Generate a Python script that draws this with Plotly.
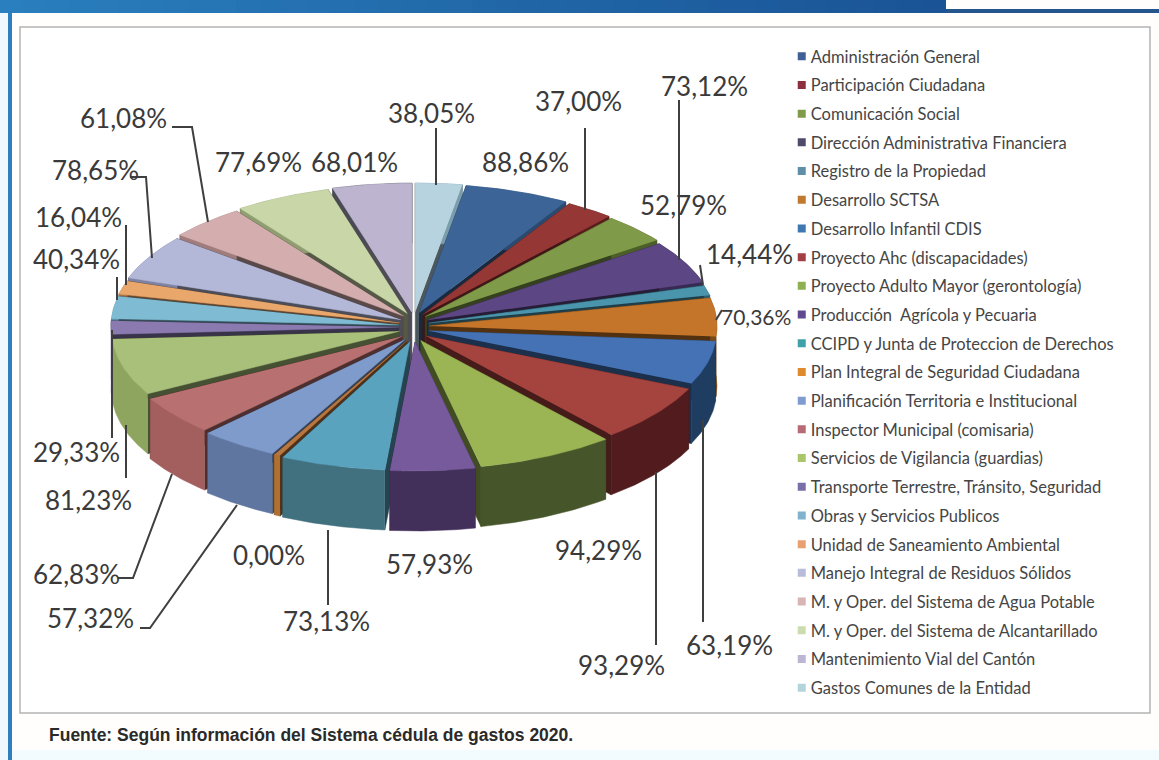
import numpy as np
import plotly.graph_objects as go

categories = ["Administración General", "Participación Ciudadana", "Comunicación Social",
              "Dirección Administrativa Financiera", "Registro de la Propiedad", "Desarrollo SCTSA",
              "Desarrollo Infantil CDIS", "Proyecto Ahc (discapacidades)", "Proyecto Adulto Mayor (gerontología)",
              "Producción  Agrícola y Pecuaria", "CCIPD y Junta de Proteccion de Derechos",
              "Plan Integral de Seguridad Ciudadana", "Planificación Territoria e Institucional",
              "Inspector Municipal (comisaria)", "Servicios de Vigilancia (guardias)",
              "Transporte Terrestre, Tránsito, Seguridad", "Obras y Servicios Publicos",
              "Unidad de Saneamiento Ambiental", "Manejo Integral de Residuos Sólidos",
              "M. y Oper. del Sistema de Agua Potable", "M. y Oper. del Sistema de Alcantarillado",
              "Mantenimiento Vial del Cantón", "Gastos Comunes de la Entidad"]
# slice size (degrees of the pie)
shares = [21.2, 9.7, 13.3, 19.3, 4.6, 17.2, 19.5, 25.8, 27.9, 17.1, 21.2, 1.3,
          15.8, 17.7, 25.5, 6.3, 10.1, 6.1, 20.0, 15.5, 19.5, 16.0, 9.4]
# percentage printed as the data label
percent = [88.86, 37.00, 52.79, 73.12, 14.44, 70.36, 63.19, 93.29, 94.29, 57.93, 73.13, 0.00,
           57.32, 62.83, 81.23, 29.33, 40.34, 16.04, 78.65, 61.08, 77.69, 68.01, 38.05]

top_colors = ["#3c6497", "#953735", "#7f9a48", "#5c4683", "#4a94ac", "#c4752a", "#4472b4", "#a5443f",
              "#9bb555", "#775a9c", "#5aa3bf", "#b9773f", "#7f9bcb", "#b87070", "#a9c07a", "#8a7ab0",
              "#7fbcd4", "#e9a76c", "#b3b8d8", "#d4aeae", "#c9d7a8", "#bdb5cf", "#b7d3e0"]
wall_colors = ["#2b4a70", "#5a1c1c", "#4c5f28", "#392a55", "#2f6070", "#7a4a18", "#1f3d60", "#521c1e",
               "#47562a", "#43305a", "#41707f", "#b0702f", "#5f77a0", "#a35e5e", "#8ea560", "#5f5080",
               "#5a8fa5", "#a87040", "#7f84a5", "#a07c7c", "#8f9d70", "#4a4a55", "#7a9dac"]
legend_colors = ["#3f5f96", "#8e2f3f", "#7f9a48", "#4f4a6b", "#5f8fa8", "#c07a30", "#3f78b0", "#a04045",
                 "#8fb050", "#5f4a8f", "#3fa0a8", "#e08a30", "#7f9bd0", "#b86a75", "#a9c76a", "#7a6fa8",
                 "#7fb4cc", "#e8a070", "#b8bcd8", "#d8b4b4", "#cddcae", "#bdb5d4", "#b4d4dc"]

# label text centres and leader polylines, in picture pixels
label_pos = [(525, 162), (578, 101), (683, 205), (704, 86), (749, 254), (756, 316), (729, 645), (621, 665),
             (598, 550), (429, 564), (326, 621), (269, 555), (90, 618), (76, 574), (88, 500), (76, 452),
             (76, 259), (78, 217), (95, 170), (123, 118), (258, 162), (354, 162), (431, 113)]
leaders = [[(585, 128), (585, 210)], [(679, 100), (679, 260)], [(700, 265), (703, 285)], [(722, 310), (716, 320)],
           [(703, 420), (703, 622)], [(656, 472), (656, 645)], [(328, 530), (328, 605)],
           [(237, 505), (150, 628), (140, 628)], [(172, 474), (133, 578), (118, 578)], [(126, 425), (126, 478)],
           [(112, 330), (112, 438)], [(117, 277), (117, 300)], [(126, 225), (126, 285)],
           [(130, 177), (146, 177), (152, 258)], [(172, 127), (192, 127), (208, 222)], [(436, 128), (436, 185)]]

CX, CY, RX, RY, PX, PY, DEPTH, START = 414, 327, 288, 129, 15, 15, 60, 9.4


def xy(t, r=1.0):
    return CX + RX * r * np.sin(t), CY - RY * r * np.cos(t)


fig = go.Figure()


def poly(x, y, color):
    fig.add_trace(go.Scatter(x=x, y=y, mode="lines", fill="toself", fillcolor=color,
                             line=dict(width=0.5, color=color), hoverinfo="skip", showlegend=False))


edges = START + np.concatenate([[0], np.cumsum(shares)])
slices = []
for i in range(len(shares)):
    a, b = np.radians(edges[i]), np.radians(edges[i + 1])
    m = (a + b) / 2
    slices.append((np.cos(m), i, a, b, m))

for _, i, a, b, m in sorted(slices, key=lambda s: -s[0]):
    dx, dy = PX * np.sin(m), -PY * np.cos(m)
    t = np.linspace(a, b, 40)
    ax, ay = xy(t)
    ax, ay = ax + dx, ay + dy
    ox, oy = CX + dx, CY + dy
    dark = "#%02x%02x%02x" % tuple(int(int(top_colors[i][j:j + 2], 16) * 0.42) for j in (1, 3, 5))
    # radial walls
    for k in (0, -1):
        poly([ox, ax[k], ax[k], ox], [oy, ay[k], ay[k] + DEPTH, oy + DEPTH], dark)
    # outer wall
    poly(np.concatenate([ax, ax[::-1]]), np.concatenate([ay, ay[::-1] + DEPTH]), wall_colors[i])
    # top face
    poly(np.concatenate([[ox], ax]), np.concatenate([[oy], ay]), top_colors[i])

for seg in leaders:
    fig.add_trace(go.Scatter(x=[p[0] for p in seg], y=[p[1] for p in seg], mode="lines",
                             line=dict(color="#3f3f3f", width=2), hoverinfo="skip", showlegend=False))

for name, c in zip(categories, legend_colors):
    fig.add_trace(go.Scatter(x=[None], y=[None], mode="markers", name=name, legendgroup=name,
                             marker=dict(symbol="square", size=8, color=c)))

annotations = []
for i, v in enumerate(percent):
    is_narrow = categories[i] == "Desarrollo SCTSA"
    annotations.append(dict(x=label_pos[i][0], y=label_pos[i][1], xref="x", yref="y", showarrow=False,
                            text=f"{v:.2f}%".replace(".", ","),
                            font=dict(family="Lato", size=21 if is_narrow else 26, color="#3a3a3a")))
annotations.append(dict(x=47, y=735, xref="x", yref="y", xanchor="left", showarrow=False,
                        text="<b>Fuente: Según información del Sistema cédula de gastos 2020.</b>",
                        font=dict(family="Liberation Sans", size=17.5, color="#2a2a2a")))

shapes = [
    dict(type="rect", x0=0, x1=1159, y0=750, y1=760, fillcolor="#f2fbfe", line_width=0, layer="below"),
    dict(type="rect", x0=0, x1=8, y0=0, y1=760, fillcolor="#f0f8fd", line_width=0, layer="below"),
    dict(type="rect", x0=8, x1=12, y0=10, y1=760, fillcolor="#2e7fbd", line_width=0, layer="below"),
    dict(type="rect", x0=945, x1=1159, y0=9, y1=13, fillcolor="#24558c", line_width=0, layer="below"),
    dict(type="rect", x0=20, x1=1150, y0=27, y1=713, fillcolor="white",
         line=dict(color="#b4b4b4", width=1.5), layer="below"),
]
# header band, shaded from lighter blue to darker blue
band_from, band_to = np.array([42, 127, 190]), np.array([26, 84, 150])
for k in range(40):
    c = band_from + (band_to - band_from) * k / 39
    shapes.append(dict(type="rect", x0=945 * k / 40, x1=945 * (k + 1) / 40 + 1, y0=0, y1=13,
                       fillcolor="rgb(%d,%d,%d)" % tuple(c), line_width=0, layer="below"))

fig.update_layout(
    width=1159, height=760, margin=dict(l=0, r=0, t=0, b=0),
    paper_bgcolor="#fffefc", plot_bgcolor="rgba(0,0,0,0)",
    xaxis=dict(range=[0, 1159], visible=False, fixedrange=True),
    yaxis=dict(range=[760, 0], visible=False, fixedrange=True),
    annotations=annotations, shapes=shapes,
    showlegend=True,
    legend=dict(x=0.665, xanchor="left", y=1 - 39 / 760, yanchor="top", bgcolor="rgba(0,0,0,0)",
                tracegroupgap=4.25, font=dict(family="Lato", size=16.5, color="#454545")),
)

# move the legend swatches next to their texts, as in the reference
fig.write_html("out.html", config=dict(displayModeBar=False),
               post_script="document.body.style.margin='0';document.body.style.overflow='hidden';"
                           "document.querySelectorAll('.legend .legendsymbols').forEach("
                           "function(g){g.setAttribute('transform','translate(11,0)');});")
